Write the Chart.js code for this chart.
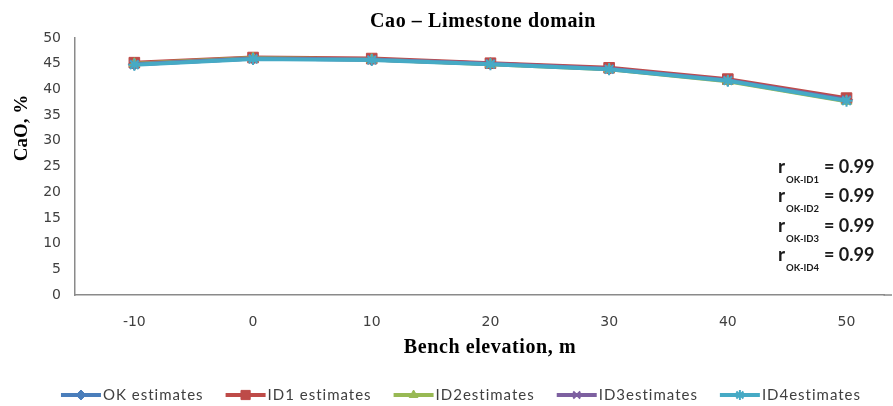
<!DOCTYPE html>
<html><head><meta charset="utf-8">
<script src="https://cdn.jsdelivr.net/npm/chart.js@4/dist/chart.umd.min.js"></script>
<style>html,body{margin:0;padding:0;background:#fff;} #wrap{width:893px;height:406px;position:relative;}</style>
</head><body><div id="wrap"><canvas id="c" width="893" height="406"></canvas></div>
<script>
const categories   = [-10, 0, 10, 20, 30, 40, 50];
const okEstimates  = [44.9, 46.0, 45.8, 45.0, 44.0, 41.8, 38.0];
const id1Estimates = [45.2, 46.2, 46.0, 45.1, 44.2, 42.0, 38.3];
const id2Estimates = [45.0, 46.1, 45.8, 44.9, 43.9, 41.6, 37.7];
const id3Estimates = [44.9, 46.0, 45.8, 45.0, 44.0, 41.8, 38.0];
const id4Estimates = [44.8, 45.9, 45.7, 44.9, 43.9, 41.7, 37.8];
const seriesNames  = ['OK estimates', 'ID1 estimates', 'ID2estimates', 'ID3estimates', 'ID4estimates'];
const yTicks       = [0, 5, 10, 15, 20, 25, 30, 35, 40, 45, 50];
const rSubscripts  = ['OK-ID1', 'OK-ID2', 'OK-ID3', 'OK-ID4'];
const rValues      = ['0.99', '0.99', '0.99', '0.99'];
const chartTitle   = 'Cao \u2013 Limestone domain';
const xTitle       = 'Bench elevation, m';
const yTitle       = 'CaO, %';

const seriesValues = [okEstimates, id1Estimates, id2Estimates, id3Estimates, id4Estimates];
const colors  = ['#4A7EBB', '#BE4B48', '#98B954', '#7D60A0', '#46AAC5'];
const styles  = ['rectRot', 'rect', 'triangle', 'crossRot', 'star'];
const radii   = [6, 7.5, 6, 6, 6];

const datasets = seriesValues.map((vals, i) => ({
  label: seriesNames[i],
  data: categories.map((c, k) => ({x: c, y: vals[k]})),
  borderColor: colors[i],
  backgroundColor: colors[i],
  pointBackgroundColor: colors[i],
  pointBorderColor: colors[i],
  pointStyle: styles[i],
  pointRadius: radii[i],
  pointBorderWidth: (i >= 3) ? 2 : 1,
  borderWidth: 4,
  tension: 0,
  order: 4 - i
}));

const tickFont = {family: 'DejaVu Sans', size: 14};
const tickColor = '#404040';

const extras = {
  id: 'extras',
  beforeDatasetsDraw(chart) {
    // extend the category axis line to the right edge of the frame
    const ctx = chart.ctx;
    const ca = chart.chartArea;
    const y0 = chart.scales.y.getPixelForValue(0);
    ctx.save();
    ctx.strokeStyle = '#8a8a8a';
    ctx.lineWidth = 1.5;
    ctx.beginPath();
    ctx.moveTo(ca.right - 1, y0);
    ctx.lineTo(chart.width - 1, y0);
    ctx.stroke();
    ctx.restore();
  },
  afterDraw(chart) {
    const ctx = chart.ctx;
    ctx.save();
    // title
    ctx.fillStyle = '#000';
    ctx.font = 'bold 20px "Liberation Serif"';
    ctx.letterSpacing = '0.6px';
    ctx.textAlign = 'center';
    ctx.textBaseline = 'alphabetic';
    ctx.fillText(chartTitle, 483, 27);
    // x title
    ctx.fillText(xTitle, 490, 353);
    // y title
    ctx.save();
    ctx.translate(27, 128);
    ctx.rotate(-Math.PI / 2);
    ctx.letterSpacing = '0px';
    ctx.font = 'bold 19px "Liberation Serif"';
    ctx.fillText(yTitle, 0, 0);
    ctx.restore();
    ctx.letterSpacing = '0px';
    // correlation annotations
    ctx.textAlign = 'left';
    ctx.fillStyle = '#1a1a1a';
    rSubscripts.forEach((sub, i) => {
      const base = 173 + i * 29.3;
      ctx.font = 'bold 19px Lato';
      ctx.fillText('r', 778, base);
      ctx.font = 'bold 9.5px Lato';
      ctx.fillText(sub, 786, base + 10);
      ctx.font = 'bold 18px Lato';
      ctx.fillText('= ' + rValues[i], 824, base);
    });
    // legend
    ctx.font = '15px Lato';
    ctx.letterSpacing = '1px';
    ctx.textBaseline = 'middle';
    const symW = 40, gapT = 2, gapI = 22;
    const widths = seriesNames.map(n => ctx.measureText(n).width);
    const total = widths.reduce((a, w) => a + symW + gapT + w, 0) + gapI * (seriesNames.length - 1);
    let x = 461 - total / 2;
    const ly = 395;
    seriesNames.forEach((n, i) => {
      ctx.strokeStyle = colors[i];
      ctx.fillStyle = colors[i];
      ctx.lineWidth = 4;
      ctx.beginPath();
      ctx.moveTo(x, ly);
      ctx.lineTo(x + symW, ly);
      ctx.stroke();
      ctx.lineWidth = (i >= 3) ? 2 : 1;
      Chart.helpers.drawPoint(ctx, {pointStyle: styles[i], radius: radii[i] - 1, rotation: 0, borderWidth: (i >= 3) ? 2 : 1}, x + symW / 2, ly);
      ctx.fillStyle = '#404040';
      ctx.fillText(n, x + symW + gapT, ly);
      x += symW + gapT + widths[i] + gapI;
    });
    ctx.restore();
  }
};

new Chart(document.getElementById('c'), {
  type: 'line',
  data: {datasets},
  options: {
    responsive: false,
    animation: false,
    devicePixelRatio: 1,
    layout: {padding: {top: 38, right: 1, left: 0, bottom: 0}},
    plugins: {legend: {display: false}, title: {display: false}, tooltip: {enabled: false}},
    scales: {
      x: {
        type: 'linear', min: -15, max: 53.2,
        afterBuildTicks: s => { s.ticks = categories.map(v => ({value: v})); },
        afterFit: s => { s.height = 111; s.paddingLeft = 0; s.paddingRight = 0; },
        grid: {display: false, drawTicks: false},
        border: {display: true, color: '#8a8a8a', width: 1.5},
        ticks: {font: tickFont, color: tickColor, padding: 19, maxRotation: 0, autoSkip: false, callback: v => String(v)}
      },
      y: {
        min: 0, max: 50,
        afterBuildTicks: s => { s.ticks = yTicks.map(v => ({value: v})); },
        afterFit: s => { s.width = 75; },
        grid: {display: false, drawTicks: false},
        border: {display: true, color: '#8a8a8a', width: 1.5},
        ticks: {font: tickFont, color: tickColor, padding: 14, callback: v => String(v)}
      }
    }
  },
  plugins: [extras]
});
</script></body></html>
